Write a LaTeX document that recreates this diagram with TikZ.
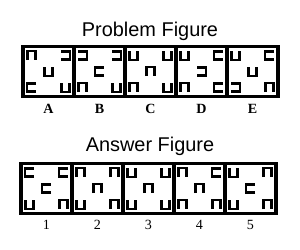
\documentclass[tikz,border=0pt]{standalone}
\usepackage{fontspec}
\setmainfont{Liberation Serif}
\newfontfamily\arialfont{Liberation Sans}
\tikzset{
  symline/.style={line width=1.9pt},
  boxline/.style={line width=1.2pt},
  sym/.pic={\draw[symline,rotate=#1] (-4,4.5) -- (-4,-4.5) -- (4,-4.5) -- (4,4.5);}
}

\begin{document}
\begin{tikzpicture}[x=0.03cm,y=-0.03cm]
    \useasboundingbox (0,0) rectangle (300,250);
    % --- problem figure
    \node[font=\arialfont\fontsize{17}{20}\selectfont] (probtitle) at (150,31) {Problem Figure};
    \draw[boxline] (22,46) rectangle (279,97);
    \foreach \i/\l/\a/\b/\c/\d/\e in {0/A/0/-90/180/90/180, 1/B/-90/-90/90/0/180,
        2/C/180/180/0/0/180, 3/D/180/90/-90/0/90, 4/E/180/90/180/-90/0}{
      \draw[boxline] (24+51*\i,47.5) rectangle +(49,48);
      \pic at (31.5+51*\i,55.5) {sym=\a};
      \pic at (65.5+51*\i,55.5) {sym=\b};
      \pic at (48.5+51*\i,71.5) {sym=\c};
      \pic at (31.5+51*\i,87.5) {sym=\d};
      \pic at (65.5+51*\i,87.5) {sym=\e};
      \node[font=\bfseries\fontsize{12}{14}\selectfont] (lab\l) at (48.5+51*\i,108.5) {\l};
    }
    % --- answer figure
    \node[font=\arialfont\fontsize{17}{20}\selectfont] (anstitle) at (150,146) {Answer Figure};
    \draw[boxline] (20,163) rectangle (277,214);
    \foreach \i/\l/\a/\b/\c/\d/\e in {0/1/90/90/90/180/0, 1/2/0/0/0/180/0,
        2/3/180/180/0/180/180, 3/4/0/90/0/0/0, 4/5/180/0/90/180/0}{
      \draw[boxline] (22+51*\i,164.5) rectangle +(49,48);
      \pic at (29.5+51*\i,172.5) {sym=\a};
      \pic at (63.5+51*\i,172.5) {sym=\b};
      \pic at (46.5+51*\i,188.5) {sym=\c};
      \pic at (29.5+51*\i,204.5) {sym=\d};
      \pic at (63.5+51*\i,204.5) {sym=\e};
      \node[font=\fontsize{12}{14}\selectfont] (num\l) at (46.5+51*\i,225) {\l};
    }
\end{tikzpicture}
\end{document}
